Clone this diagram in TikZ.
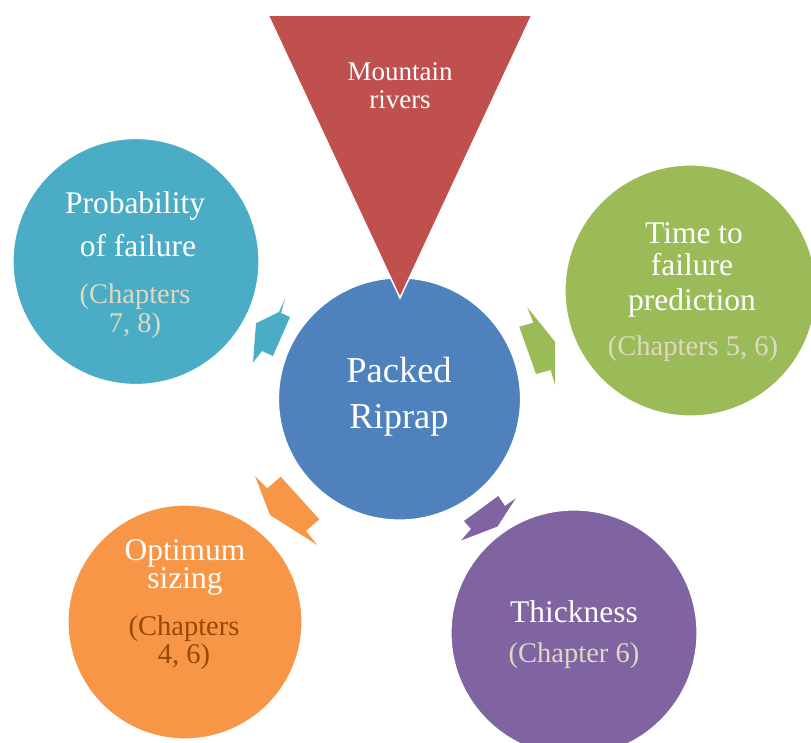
\documentclass[tikz,border=0pt]{standalone}
\usepackage{fontspec}
\setmainfont{Liberation Serif}
\definecolor{cblue}{HTML}{4F81BD}
\definecolor{cred}{HTML}{C0504D}
\definecolor{ccyan}{HTML}{4BACC6}
\definecolor{cgreen}{HTML}{9BBB59}
\definecolor{corange}{HTML}{F79646}
\definecolor{cpurple}{HTML}{8064A2}
\definecolor{chapgray}{HTML}{DDD9C3}
\definecolor{chapbrown}{HTML}{984807}
\tikzset{
  bubble/.style={circle, draw=white, line width=1.2pt, inner sep=0pt},
  pointer/.style={draw=none},
  title/.style={anchor=base, text=white, font=\fontsize{31.5}{36}\selectfont, inner sep=0pt},
  hubtext/.style={anchor=base, text=white, font=\fontsize{36.5}{42}\selectfont, inner sep=0pt},
  toptext/.style={anchor=base, text=white, font=\fontsize{27}{32}\selectfont, inner sep=0pt},
  chap/.style={anchor=base, font=\fontsize{28.5}{33}\selectfont, inner sep=0pt},
}
\begin{document}
\begin{tikzpicture}[x=1pt, y=-1pt]
\useasboundingbox (0,0) rectangle (811,742);
\clip (0,0) rectangle (811,742);

% outer topic circles
\node[bubble, fill=ccyan,   minimum size=246pt] (prob)  at (136,261.5) {};
\node[bubble, fill=cgreen,  minimum size=251pt] (time)  at (690.5,290.5) {};
\node[bubble, fill=corange, minimum size=234pt] (opt)   at (185,622) {};
\node[bubble, fill=cpurple, minimum size=246pt] (thick) at (574,633) {};

% central circle
\node[bubble, fill=cblue, minimum size=242pt] (hub) at (399.5,399) {};

% inverted triangle on top of the hub
\draw[fill=cred, draw=white, line width=1.5pt, line join=miter]
  (268,15) -- (532,15) -- (400,298) -- cycle;

% notched arrows between the hub and the topics
\fill[pointer, ccyan]   (256,323.3) -- (279,312) -- (285,299) -- (281,313) -- (290,317)
  -- (273,356) -- (262,351) -- (253,362.5) -- cycle;
\fill[pointer, cgreen]  (527.3,307.3) -- (533.3,322.7) -- (519.3,326.7) -- (536,374)
  -- (550.7,370) -- (555,385) -- (555,341.7) -- cycle;
\fill[pointer, cpurple] (498.3,496) -- (505,506) -- (515.7,498.3) -- (497.5,526.5)
  -- (461,540.5) -- (471,529) -- (464,521) -- cycle;
\fill[pointer, corange] (255,476) -- (267.3,488.3) -- (280.7,476.7) -- (319.3,519.3)
  -- (306,531) -- (317.3,545) -- (270,515) -- cycle;

% labels
\node[toptext] (m1) at (400,80) {Mountain};
\node[toptext] (m2) at (400,108) {rivers};

\node[hubtext] (h1) at (399,382) {Packed};
\node[hubtext] (h2) at (399,428) {Riprap};

\node[title] (p1) at (135,213) {Probability};
\node[title] (p2) at (138,256) {of failure};
\node[chap, text=chapgray] (p3) at (135,303) {(Chapters};
\node[chap, text=chapgray] (p4) at (135,332) {7, 8)};

\node[title] (t1) at (694,243) {Time to};
\node[title] (t2) at (692,275) {failure};
\node[title] (t3) at (692,310) {prediction};
\node[chap, text=chapgray] (t4) at (693,355) {(Chapters 5, 6)};

\node[title] (o1) at (185,560) {Optimum};
\node[title] (o2) at (185,588) {sizing};
\node[chap, text=chapbrown] (o3) at (184,635) {(Chapters};
\node[chap, text=chapbrown] (o4) at (184,663) {4, 6)};

\node[title] (k1) at (574,622) {Thickness};
\node[chap, text=chapgray] (k2) at (574,662) {(Chapter 6)};
\end{tikzpicture}
\end{document}
